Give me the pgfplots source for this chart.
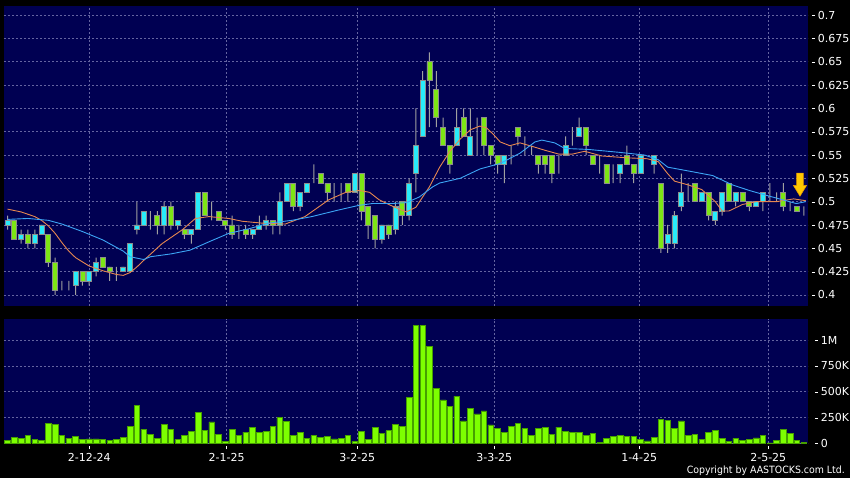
\documentclass[border=0pt]{standalone}
\usepackage{pgfplots}
\pgfplotsset{compat=1.18}
\usepackage{pgfplotstable}
\usepackage{graphicx}
\usepackage{fontspec}
\setmainfont{DejaVu Sans}

\definecolor{navybg}{RGB}{0,0,82}
\definecolor{gridc}{RGB}{100,100,160}
\definecolor{upc}{RGB}{40,235,250}
\definecolor{dnc}{RGB}{125,230,20}
\definecolor{outl}{RGB}{140,140,140}
\definecolor{wickc}{RGB}{160,160,160}
\definecolor{volc}{RGB}{125,255,0}
\definecolor{voll}{RGB}{70,160,0}
\definecolor{maor}{RGB}{230,135,80}
\definecolor{mabl}{RGB}{60,165,245}
\definecolor{arrowc}{RGB}{255,200,0}
\definecolor{arrowl}{RGB}{230,150,0}

\newcommand{\tk}[1]{\rule[3.2pt]{3.3pt}{0.9pt}\hspace{2.6pt}#1}

\pgfplotstableread{
i o h l c v
0 0.475 0.485 0.470 0.480 32
1 0.480 0.480 0.460 0.460 62
2 0.460 0.470 0.455 0.465 52
3 0.465 0.470 0.450 0.455 78
4 0.455 0.470 0.450 0.465 36
5 0.465 0.475 0.465 0.475 32
6 0.465 0.465 0.430 0.435 195
7 0.435 0.440 0.400 0.405 185
8 0.410 0.415 0.405 0.410 78
9 0.410 0.415 0.405 0.410 52
10 0.410 0.425 0.400 0.425 65
11 0.425 0.425 0.410 0.415 39
12 0.415 0.425 0.410 0.425 45
13 0.425 0.440 0.420 0.435 45
14 0.440 0.440 0.430 0.430 39
15 0.430 0.430 0.415 0.425 32
16 0.425 0.430 0.415 0.425 39
17 0.425 0.430 0.425 0.430 58
18 0.425 0.455 0.425 0.455 165
19 0.470 0.500 0.465 0.475 370
20 0.475 0.490 0.475 0.490 136
21 0.485 0.490 0.470 0.485 91
22 0.485 0.490 0.465 0.475 52
23 0.475 0.500 0.465 0.495 188
24 0.495 0.500 0.470 0.475 140
25 0.475 0.480 0.470 0.480 39
26 0.470 0.470 0.460 0.465 81
27 0.465 0.470 0.455 0.470 114
28 0.470 0.510 0.470 0.510 300
29 0.510 0.510 0.485 0.485 130
30 0.490 0.500 0.480 0.490 208
31 0.490 0.490 0.480 0.480 88
32 0.480 0.480 0.470 0.475 19
33 0.475 0.485 0.460 0.465 140
34 0.470 0.475 0.460 0.470 81
35 0.470 0.475 0.460 0.465 110
36 0.465 0.470 0.460 0.470 156
37 0.470 0.485 0.470 0.475 110
38 0.475 0.485 0.470 0.480 120
39 0.480 0.480 0.465 0.475 169
40 0.475 0.510 0.465 0.500 253
41 0.500 0.520 0.500 0.520 214
42 0.520 0.520 0.490 0.495 78
43 0.495 0.510 0.490 0.510 107
44 0.510 0.520 0.510 0.520 52
45 0.520 0.540 0.520 0.520 75
46 0.530 0.530 0.520 0.520 62
47 0.520 0.520 0.500 0.510 68
48 0.510 0.520 0.500 0.510 45
49 0.510 0.520 0.500 0.510 52
50 0.520 0.520 0.500 0.510 75
51 0.510 0.530 0.510 0.530 19
52 0.530 0.530 0.480 0.490 117
53 0.495 0.495 0.460 0.475 39
54 0.485 0.485 0.450 0.460 159
55 0.460 0.475 0.455 0.475 97
56 0.475 0.475 0.460 0.465 123
57 0.470 0.500 0.465 0.495 182
58 0.500 0.500 0.475 0.485 165
59 0.485 0.525 0.480 0.520 442
60 0.530 0.600 0.510 0.560 1140
61 0.570 0.640 0.570 0.630 1140
62 0.650 0.660 0.580 0.630 935
63 0.620 0.640 0.580 0.590 536
64 0.580 0.590 0.560 0.560 422
65 0.560 0.560 0.530 0.540 357
66 0.560 0.600 0.560 0.580 455
67 0.590 0.600 0.570 0.570 218
68 0.550 0.600 0.550 0.570 341
69 0.570 0.590 0.550 0.570 286
70 0.590 0.590 0.550 0.560 315
71 0.560 0.560 0.540 0.550 179
72 0.550 0.550 0.530 0.540 146
73 0.540 0.550 0.520 0.550 110
74 0.550 0.560 0.540 0.550 166
75 0.580 0.580 0.560 0.570 195
76 0.560 0.570 0.550 0.560 143
77 0.560 0.560 0.550 0.560 75
78 0.550 0.550 0.530 0.540 146
79 0.550 0.550 0.530 0.540 153
80 0.550 0.550 0.520 0.530 91
81 0.540 0.550 0.530 0.540 159
82 0.550 0.570 0.550 0.560 120
83 0.570 0.580 0.560 0.570 104
84 0.570 0.590 0.570 0.580 104
85 0.580 0.580 0.550 0.560 75
86 0.550 0.550 0.540 0.540 97
87 0.540 0.550 0.530 0.540 10
88 0.540 0.540 0.520 0.520 49
89 0.530 0.540 0.520 0.530 71
90 0.530 0.540 0.520 0.540 81
91 0.550 0.560 0.540 0.540 65
92 0.540 0.540 0.520 0.530 68
93 0.530 0.550 0.530 0.550 42
94 0.550 0.550 0.550 0.550 26
95 0.540 0.550 0.530 0.550 62
96 0.520 0.520 0.445 0.450 234
97 0.455 0.475 0.445 0.465 227
98 0.455 0.490 0.450 0.485 146
99 0.495 0.530 0.490 0.510 218
100 0.510 0.520 0.500 0.510 78
101 0.520 0.520 0.500 0.500 91
102 0.500 0.510 0.500 0.510 39
103 0.510 0.510 0.480 0.485 104
104 0.480 0.490 0.475 0.490 130
105 0.490 0.510 0.485 0.510 49
106 0.520 0.520 0.500 0.500 19
107 0.500 0.510 0.495 0.510 49
108 0.510 0.510 0.500 0.500 32
109 0.500 0.500 0.490 0.495 36
110 0.495 0.500 0.495 0.500 55
111 0.500 0.510 0.490 0.510 78
112 0.510 0.520 0.500 0.510 6
113 0.510 0.510 0.500 0.510 29
114 0.510 0.520 0.490 0.495 136
115 0.495 0.500 0.490 0.495 101
116 0.495 0.495 0.490 0.490 32
117 0.490 0.495 0.485 0.490 10
}\ohlc

\pgfplotstableread{
x y
0 0.492
2 0.489
4 0.484
5 0.480
6 0.474
7 0.466
8 0.456
9 0.447
10 0.440
12 0.431
14 0.426
16 0.422
17 0.421
18 0.424
19 0.430
20 0.437
22.7 0.455
25.7 0.470
27.6 0.482
29.6 0.484
32.5 0.482
34.5 0.479
37.4 0.477
40.8 0.476
43.7 0.484
47.2 0.502
49.7 0.510
51.7 0.512
53.2 0.510
54.6 0.502
56.6 0.495
58.6 0.489
60 0.494
61 0.505
62 0.516
63.5 0.537
65 0.554
66.5 0.567
68 0.577
69.4 0.581
70.4 0.579
71.4 0.572
72.4 0.564
73.8 0.560
75.3 0.563
77.2 0.559
79 0.555
81 0.551
83 0.551
84.8 0.554
87.3 0.549
91 0.547
94 0.546
95.6 0.543
97 0.530
98 0.522
100 0.518
102 0.513
104 0.500
105 0.490
106 0.490
108 0.497
110 0.500
113 0.500
115.5 0.503
117.3 0.501
}\maorange

\pgfplotstableread{
x y
0 0.481
3 0.482
6 0.480
8 0.476
11 0.468
14 0.459
17 0.447
18 0.441
20 0.438
21 0.441
24 0.444
26.8 0.448
29.6 0.457
32.5 0.466
35.5 0.471
38.4 0.477
41.8 0.480
44.7 0.484
48.6 0.491
51.6 0.496
53.6 0.498
56.6 0.498
58.6 0.499
60.5 0.505
62.5 0.516
63.5 0.520
66.5 0.525
69.4 0.535
72.4 0.541
75.3 0.552
77.5 0.564
78.5 0.566
80.4 0.563
81.9 0.557
85.3 0.556
89.7 0.553
93.6 0.550
95.6 0.545
97 0.537
100.7 0.532
103.6 0.528
106.5 0.518
109 0.512
111.4 0.507
113.9 0.502
115.9 0.498
117.3 0.500
}\mablue

\pgfplotsset{
  panel/.style={
    scale only axis, width=804pt,
    xmin=-0.52, xmax=117.62,
    axis line style={draw=none},
    tick label style={font=\fontsize{11}{13}\selectfont, text=white},
  },
  mygrid/.style={
    grid=major,
    major grid style={gridc, dash pattern=on 2pt off 2pt, line width=0.6pt},
  },
}

\begin{document}
\begin{tikzpicture}
\fill[black] (0,0) rectangle (850pt,478pt);
\useasboundingbox (0,0) rectangle (850pt,478pt);

% top panel: background, grid, wicks
\begin{axis}[panel, at={(4pt,172pt)}, anchor=south west, height=300pt,
  ymin=0.3882, ymax=0.7097,
  axis background/.style={fill=navybg},
  mygrid,
  xtick={12.01,32.2,51.39,71.52,92.82,111.78}, xticklabels={}, xtick style={draw=none},
  ytick={0.4,0.425,0.45,0.475,0.5,0.525,0.55,0.575,0.6,0.625,0.65,0.675,0.7},
  yticklabels={\tk{0.4},\tk{0.425},\tk{0.45},\tk{0.475},\tk{0.5},\tk{0.525},\tk{0.55},\tk{0.575},\tk{0.6},\tk{0.625},\tk{0.65},\tk{0.675},\tk{0.7}},
  ytick pos=right, ytick style={draw=none},
  yticklabel style={anchor=west, inner sep=0pt, xshift=3.7pt},
  ybar stacked, bar width=1pt,
]
\addplot[fill=none, draw=none] table[x=i, y=l] {\ohlc};
\addplot[fill=wickc, draw=none] table[x=i, y expr=\thisrow{h}-\thisrow{l}] {\ohlc};
\end{axis}

% candle bodies
\begin{axis}[panel, at={(4pt,172pt)}, anchor=south west, height=300pt,
  ymin=0.3882, ymax=0.7097, hide axis,
  ybar stacked, bar width=5pt,
]
\addplot[fill=none, draw=none] table[x=i, y expr={min(\thisrow{o},\thisrow{c})}] {\ohlc};
\addplot[fill=upc, draw=outl, line width=0.8pt] table[x=i, y expr={max(\thisrow{c}-\thisrow{o},0)}] {\ohlc};
\addplot[fill=dnc, draw=outl, line width=0.8pt] table[x=i, y expr={max(\thisrow{o}-\thisrow{c},0)}] {\ohlc};
\end{axis}

% moving averages and arrow
\begin{axis}[panel, at={(4pt,172pt)}, anchor=south west, height=300pt,
  ymin=0.3882, ymax=0.7097, hide axis,
]
\addplot[maor, line width=0.9pt] table[x=x, y=y] {\maorange};
\addplot[mabl, line width=0.9pt] table[x=x, y=y] {\mablue};
\filldraw[fill=arrowc, draw=arrowl, line width=0.5pt]
  (axis cs:115.95,0.5305) -- (axis cs:116.93,0.5305) -- (axis cs:116.93,0.5175)
  -- (axis cs:117.42,0.5175) -- (axis cs:116.44,0.5058) -- (axis cs:115.46,0.5175)
  -- (axis cs:115.95,0.5175) -- cycle;
\end{axis}

% volume panel
\begin{axis}[panel, at={(4pt,34.5pt)}, anchor=south west, height=124.2pt,
  ymin=0, ymax=1200,
  axis background/.style={fill=navybg},
  mygrid,
  xtick={12.01,32.2,51.39,71.52,92.82,111.78},
  xticklabels={2-12-24,2-1-25,3-2-25,3-3-25,1-4-25,2-5-25},
  xtick pos=bottom, tick align=outside, major tick length=3pt,
  xtick style={white, line width=0.8pt, yshift=-3pt},
  xticklabel style={anchor=north, inner sep=0pt, yshift=-7pt},
  ytick={0,250,500,750,1000},
  yticklabels={\tk{0},\tk{250K},\tk{500K},\tk{750K},\tk{1M}},
  ytick pos=right, ytick style={draw=none},
  yticklabel style={anchor=west, inner sep=0pt, xshift=3.7pt},
  ybar, bar width=5.6pt,
]
\addplot[fill=volc, draw=voll, line width=0.6pt] table[x=i, y=v] {\ohlc};
\end{axis}

\node[anchor=base east, text=white, inner sep=0pt] at (845pt,4.5pt)
  {\resizebox{158pt}{\height}{\fontsize{10}{12}\selectfont Copyright by AASTOCKS.com Ltd.}};
\end{tikzpicture}
\end{document}
